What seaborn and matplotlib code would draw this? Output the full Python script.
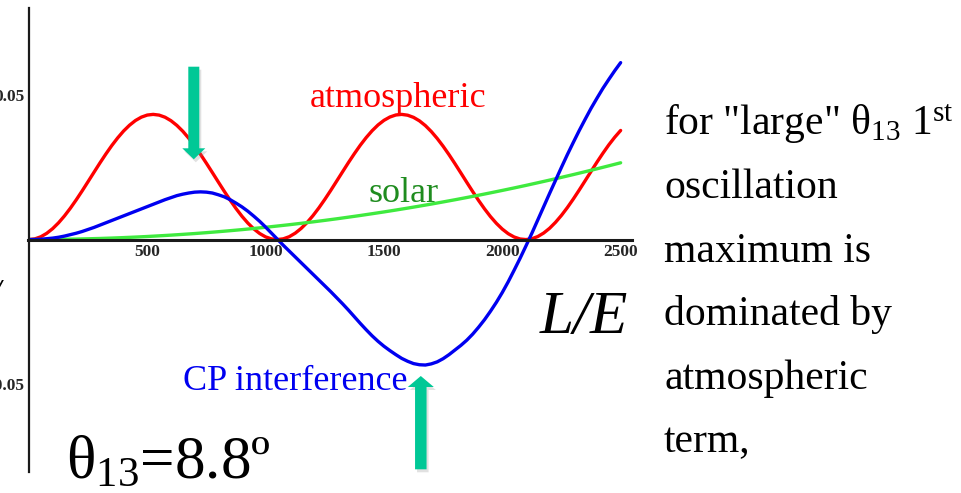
import matplotlib
matplotlib.use("Agg")
import matplotlib.pyplot as plt
import pandas as pd
import seaborn as sns
from matplotlib.patches import FancyArrow

# ---- data ----
L_fine = list(range(0, 2501, 25))
L_coarse = list(range(0, 2501, 50))
atmospheric = [0.0, 0.00024, 0.00096, 0.00215, 0.00377, 0.00579, 0.00817, 0.01085, 0.01377, 0.01686,
               0.02007, 0.02330, 0.02651, 0.02960, 0.03252, 0.03518, 0.03756, 0.03956, 0.04118, 0.04235,
               0.04307, 0.04330, 0.04305, 0.04232, 0.04112, 0.03949, 0.03747, 0.03507, 0.03241, 0.02947,
               0.02637, 0.02317, 0.01993, 0.01673, 0.01364, 0.01073, 0.00806, 0.00570, 0.00369, 0.00209,
               0.00092, 0.00022, 0.0, 0.00026, 0.00100, 0.00221, 0.00385, 0.00588, 0.00827, 0.01096,
               0.01389, 0.01699, 0.02020, 0.02343, 0.02664, 0.02972, 0.03264, 0.03529, 0.03765, 0.03965,
               0.04124, 0.04239, 0.04309, 0.04330, 0.04302, 0.04227, 0.04106, 0.03942, 0.03737, 0.03497,
               0.03228, 0.02935, 0.02624, 0.02303, 0.01979, 0.01660, 0.01351, 0.01061, 0.00795, 0.00561,
               0.00362, 0.00203, 0.00089, 0.00020, 0.0, 0.00028, 0.00105, 0.00227, 0.00392, 0.00598,
               0.00838, 0.01108, 0.01402, 0.01713, 0.02034, 0.02357, 0.02678, 0.02985, 0.03276, 0.03539,
               0.03774]
solar = [0.0, 0.00001, 0.00004, 0.00010, 0.00017, 0.00027, 0.00038, 0.00052, 0.00068, 0.00086,
         0.00106, 0.00129, 0.00153, 0.00180, 0.00208, 0.00239, 0.00272, 0.00307, 0.00344, 0.00384,
         0.00425, 0.00469, 0.00514, 0.00562, 0.00612, 0.00664, 0.00718, 0.00775, 0.00833, 0.00894,
         0.00956, 0.01021, 0.01088, 0.01157, 0.01228, 0.01302, 0.01377, 0.01455, 0.01534, 0.01616,
         0.01700, 0.01786, 0.01874, 0.01965, 0.02057, 0.02152, 0.02248, 0.02347, 0.02448, 0.02551,
         0.02656]
cp_interference = [0.0, 0.00003, 0.0001, 0.0003, 0.0005, 0.0008, 0.0012, 0.0017, 0.0022, 0.0028,
                   0.0035, 0.0042, 0.0050, 0.0058, 0.0066, 0.0074, 0.0082, 0.0090, 0.0098, 0.0106,
                   0.0114, 0.0122, 0.0130, 0.0138, 0.0145, 0.0152, 0.0157, 0.0161, 0.0164, 0.0165,
                   0.0164, 0.0161, 0.0155, 0.0148, 0.0138, 0.0126, 0.0113, 0.0098, 0.0081, 0.0063,
                   0.0043, 0.0022, 0.0001, -0.0020, -0.0040, -0.0060, -0.0080, -0.0100, -0.0120, -0.0140,
                   -0.0160, -0.0180, -0.0201, -0.0222, -0.0244, -0.0267, -0.0290, -0.0312, -0.0333, -0.0352,
                   -0.0369, -0.0384, -0.0398, -0.0411, -0.0421, -0.0429, -0.0433, -0.0434, -0.0430, -0.0423,
                   -0.0412, -0.0398, -0.0382, -0.0366, -0.0348, -0.0327, -0.0303, -0.0277, -0.0248, -0.0217,
                   -0.0183, -0.0146, -0.0106, -0.0065, -0.0022, 0.0022, 0.0068, 0.0114, 0.0160, 0.0205,
                   0.0250, 0.0294, 0.0336, 0.0377, 0.0416, 0.0454, 0.0489, 0.0523, 0.0554, 0.0584,
                   0.0612]
x_ticks = [500, 1000, 1500, 2000, 2500]
x_tick_labels = ["500", "1000", "1500", "2000", "2500"]
y_ticks = [-0.05, 0.05]
y_tick_labels = ["-0.05", "0.05"]
x_minor = [100, 200, 300, 400, 600, 700, 800, 900, 1100, 1200, 1300, 1400, 1600, 1700, 1800, 1900,
           2100, 2200, 2300, 2400]
y_minor = [-0.08, -0.07, -0.06, -0.04, -0.03, -0.02, -0.01, 0.01, 0.02, 0.03, 0.04, 0.06, 0.07, 0.08]

terms = ["atmospheric", "solar", "CP interference"]
colors = {"atmospheric": "#FF0000", "solar": "#3FEA3F", "CP interference": "#0000F0"}

df = pd.concat([
    pd.DataFrame({"L/E": L_fine, "P": atmospheric, "term": "atmospheric"}),
    pd.DataFrame({"L/E": L_coarse, "P": solar, "term": "solar"}),
    pd.DataFrame({"L/E": L_fine, "P": cp_interference, "term": "CP interference"}),
], ignore_index=True)

sns.set_theme(style="white")
plt.rcParams["font.family"] = ["Liberation Serif", "DejaVu Serif"]
plt.rcParams["mathtext.fontset"] = "custom"
plt.rcParams["mathtext.rm"] = "Liberation Serif"
plt.rcParams["mathtext.it"] = "Liberation Serif:italic"

W, H = 961, 493
fig = plt.figure(figsize=(W / 100, H / 100), dpi=100)
fig.patch.set_facecolor("white")


def fx(px):
    return px / W


def fy(py):
    return 1 - py / H


ax = fig.add_axes([fx(28), fy(472), (632 - 28) / W, (472 - 8) / H])
ax.set_facecolor("none")

sns.lineplot(data=df, x="L/E", y="P", hue="term", hue_order=terms, palette=colors,
             linewidth=2.4, legend=False, ax=ax, sort=False, estimator=None)
for ln in ax.get_lines():
    ln.set_solid_joinstyle("round")
    ln.set_solid_capstyle("round")

ax.set_xlim(-4, 2548)
ax.set_ylim(-0.0804, 0.0801)
ax.set_xlabel("")
ax.set_ylabel("")

for s in ["top", "right"]:
    ax.spines[s].set_visible(False)
ax.spines["left"].set_position(("data", 0))
ax.spines["bottom"].set_position(("data", 0))
ax.spines["left"].set_color("#1a1a1a")
ax.spines["left"].set_linewidth(1.6)
ax.spines["bottom"].set_color("#1a1a1a")
ax.spines["bottom"].set_linewidth(2.2)

ax.set_xticks(x_ticks)
ax.set_xticklabels(x_tick_labels, fontsize=12.5, fontweight="bold")
ax.set_xticks(x_minor, minor=True)
ax.set_yticks(y_ticks)
ax.set_yticklabels(y_tick_labels, fontsize=12.5, fontweight="bold")
ax.set_yticks(y_minor, minor=True)
ax.tick_params(axis="x", which="major", direction="in", length=5, width=1, color="#555555", pad=3)
ax.tick_params(axis="x", which="minor", direction="in", length=3, width=0.8, color="#777777")
ax.tick_params(axis="y", which="major", direction="in", length=5, width=1, color="#555555", pad=3)
ax.tick_params(axis="y", which="minor", direction="in", length=3, width=0.8, color="#777777")

# ---- annotations ----
fig.text(fx(310), fy(107), "atmospheric", color="#FF0000", fontsize=26, va="baseline", ha="left")
fig.text(fx(368), fy(202), "solar", color="#1F8C1F", fontsize=26, va="baseline", ha="left")
fig.text(fx(183), fy(390), "CP interference", color="#0000F0", fontsize=26, va="baseline", ha="left")
fig.text(fx(66), fy(478), "θ$_{\\mathrm{13}}$=8.8º", color="black", fontsize=44, va="baseline", ha="left")
fig.text(fx(540), fy(333), "L/E", color="black", fontsize=44, fontstyle="italic", va="baseline", ha="left")
fig.text(fx(-6), fy(298), "/", color="black", fontsize=20, fontstyle="italic", fontweight="bold",
         va="baseline", ha="left")

lines = ['for "large" θ$_{\\mathrm{13}}$ 1$^{\\mathrm{st}}$', "oscillation", "maximum is",
         "dominated by", "atmospheric", "term,"]
for i, t in enumerate(lines):
    fig.text(fx(664), fy(135 + 63.5 * i), t, color="black", fontsize=30, va="baseline", ha="left")

# teal arrows (inches from bottom-left)
arrow_color = "#00C896"
for (xp, y0, y1, w, hw) in [(193.8, 66.7, 159.3, 0.11, 0.23), (420.8, 469.3, 376.0, 0.115, 0.26)]:
    shadow = FancyArrow(xp / 100 + 0.02, (H - y0) / 100 - 0.03, 0, -(y1 - y0) / 100, width=w,
                        head_width=hw, head_length=0.11, length_includes_head=True,
                        transform=fig.dpi_scale_trans, color="#888888", alpha=0.25, lw=0)
    fig.add_artist(shadow)
    arr = FancyArrow(xp / 100, (H - y0) / 100, 0, -(y1 - y0) / 100, width=w, head_width=hw,
                     head_length=0.11, length_includes_head=True, transform=fig.dpi_scale_trans,
                     color=arrow_color, lw=0)
    fig.add_artist(arr)

fig.savefig("out.png", dpi=100, facecolor="white")
